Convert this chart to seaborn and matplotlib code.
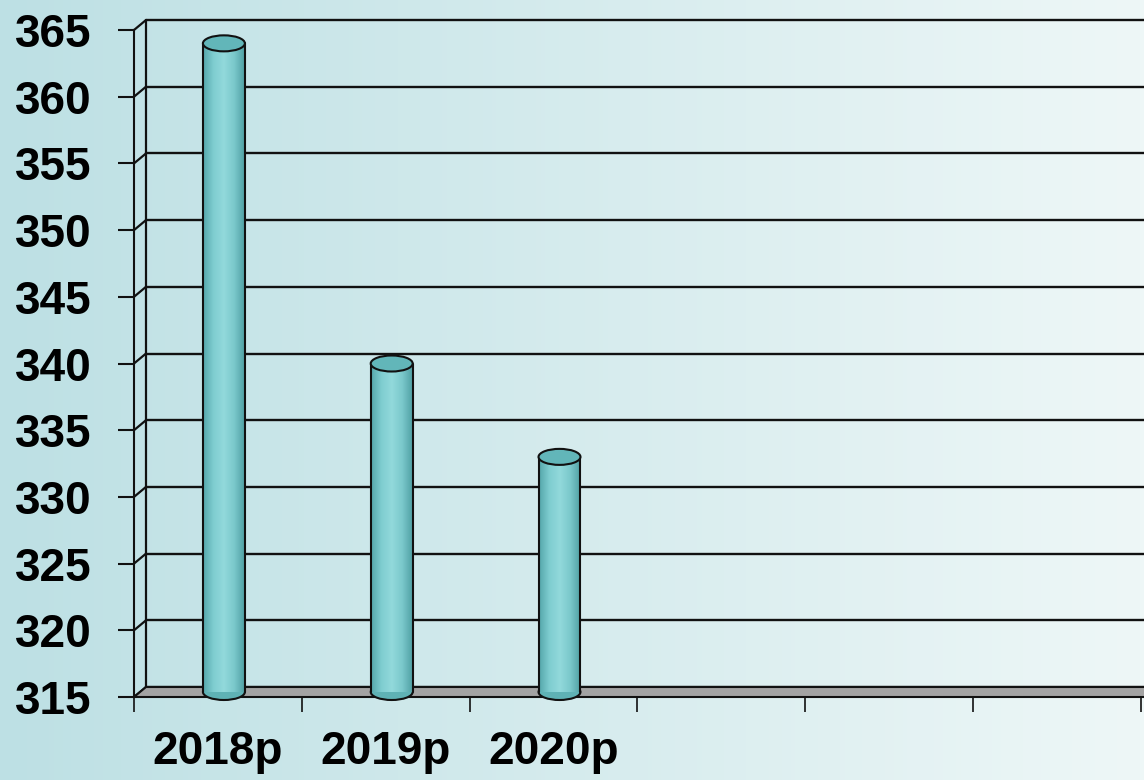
import numpy as np
import pandas as pd
import matplotlib
matplotlib.use("Agg")
import matplotlib.pyplot as plt
from matplotlib.patches import Ellipse, Polygon
from matplotlib.colors import LinearSegmentedColormap, to_rgb
import seaborn as sns

# data
years = ["2018p", "2019p", "2020p"]
values = [364, 340, 333]
yticks = [315, 320, 325, 330, 335, 340, 345, 350, 355, 360, 365]
n_slots = 6

df = pd.DataFrame({"year": years, "value": values})

sns.set_style("white")
plt.rcParams["font.family"] = ["Liberation Sans", "DejaVu Sans"]
plt.rcParams["font.weight"] = "bold"

fig = plt.figure(figsize=(11.44, 7.8), dpi=100)

# background gradient
bg = fig.add_axes([0, 0, 1, 1], zorder=-5)
c0 = np.array(to_rgb("#bde0e4"))
c1 = np.array(to_rgb("#eef7f7"))
t = np.linspace(0, 1, 256)[None, :, None]
bg.imshow(c0 + (c1 - c0) * t, aspect="auto", extent=[0, 1, 0, 1])
bg.set_axis_off()

ymin, ymax = 315, 366.2
ax = fig.add_axes([134 / 1144, 83 / 780, 1010 / 1144, 683 / 780])
ax.set_facecolor("none")

sns.barplot(data=df, x="year", y="value", width=0.25, color="#7fcccf",
            linewidth=0, ax=ax, zorder=4)

ax.set_xlim(-0.5, -0.5 + 1010 / 167.8)
ax.set_ylim(ymin, ymax)

# 3d depth offsets (data units)
dx = 12 / 167.8
dy = 10 / 13.34
xr = ax.get_xlim()[1]

# back wall gridlines
for v in yticks:
    ax.plot([-0.5 + dx, xr], [v + dy, v + dy], color="#111111", lw=1.7, zorder=1, clip_on=False)
    ax.plot([-0.5, -0.5 + dx], [v, v + dy], color="#111111", lw=1.6, zorder=1, clip_on=False)
ax.plot([-0.5 + dx, -0.5 + dx], [ymin + dy, yticks[-1] + dy], color="#111111", lw=1.6, zorder=1)

# floor
floor = Polygon([[-0.5, ymin], [xr + 1, ymin], [xr + 1, ymin + dy], [-0.5 + dx, ymin + dy]],
                closed=True, facecolor="#a3a3a3", edgecolor="#111111", lw=1.5, zorder=2, clip_on=False)
ax.add_patch(floor)

# cylinders
cyl = LinearSegmentedColormap.from_list("cyl", ["#55a7ab", "#7fcdd0", "#92d9db", "#7ac8cb", "#4f9fa3"])
grad = np.linspace(0, 1, 200)[None, :]
base = ymin + dy / 2
eh = 1.2
for p in ax.patches[:len(values)]:
    p.set_x(p.get_x() + dx / 2)
    top = p.get_height()
    p.set_y(base)
    p.set_height(top - base)
    x0, w = p.get_x(), p.get_width()
    im = ax.imshow(grad, cmap=cyl, aspect="auto", extent=[x0, x0 + w, base, top],
                   zorder=4.5, interpolation="bilinear")
    im.set_clip_path(p)
    ax.add_patch(Ellipse((x0 + w / 2, base), w, eh, facecolor="#5fb2b5",
                         edgecolor="#111111", lw=1.5, zorder=3, clip_on=False))
    ax.plot([x0, x0], [base, top], color="#111111", lw=1.5, zorder=5)
    ax.plot([x0 + w, x0 + w], [base, top], color="#111111", lw=1.5, zorder=5)
    ax.add_patch(Ellipse((x0 + w / 2, top), w, eh, facecolor="#62b6b9",
                         edgecolor="#111111", lw=1.5, zorder=6))

# axes and ticks
for s in ["top", "right"]:
    ax.spines[s].set_visible(False)
ax.spines["left"].set_bounds(ymin, yticks[-1])
ax.spines["left"].set_color("#111111")
ax.spines["left"].set_linewidth(1.5)
ax.spines["left"].set_zorder(3)
ax.spines["bottom"].set_visible(False)

ax.set_yticks(yticks)
ax.set_yticklabels([str(v) for v in yticks], fontsize=33, fontweight="bold", color="black")
ax.tick_params(axis="y", length=11.5, width=1.5, color="#111111", pad=19, left=True)

ax.set_xticks(np.arange(-0.5, n_slots + 0.5, 1))
ax.set_xticklabels([])
ax.tick_params(axis="x", which="major", length=11, width=1.2, color="#111111", bottom=True)
ax.set_xticks(np.arange(len(years)), minor=True)
ax.set_xticklabels(years, minor=True, fontsize=33, fontweight="bold", color="black")
ax.tick_params(axis="x", which="minor", length=0, pad=24)
ax.set_xlabel("")
ax.set_ylabel("")

fig.savefig("out.png", dpi=100)
